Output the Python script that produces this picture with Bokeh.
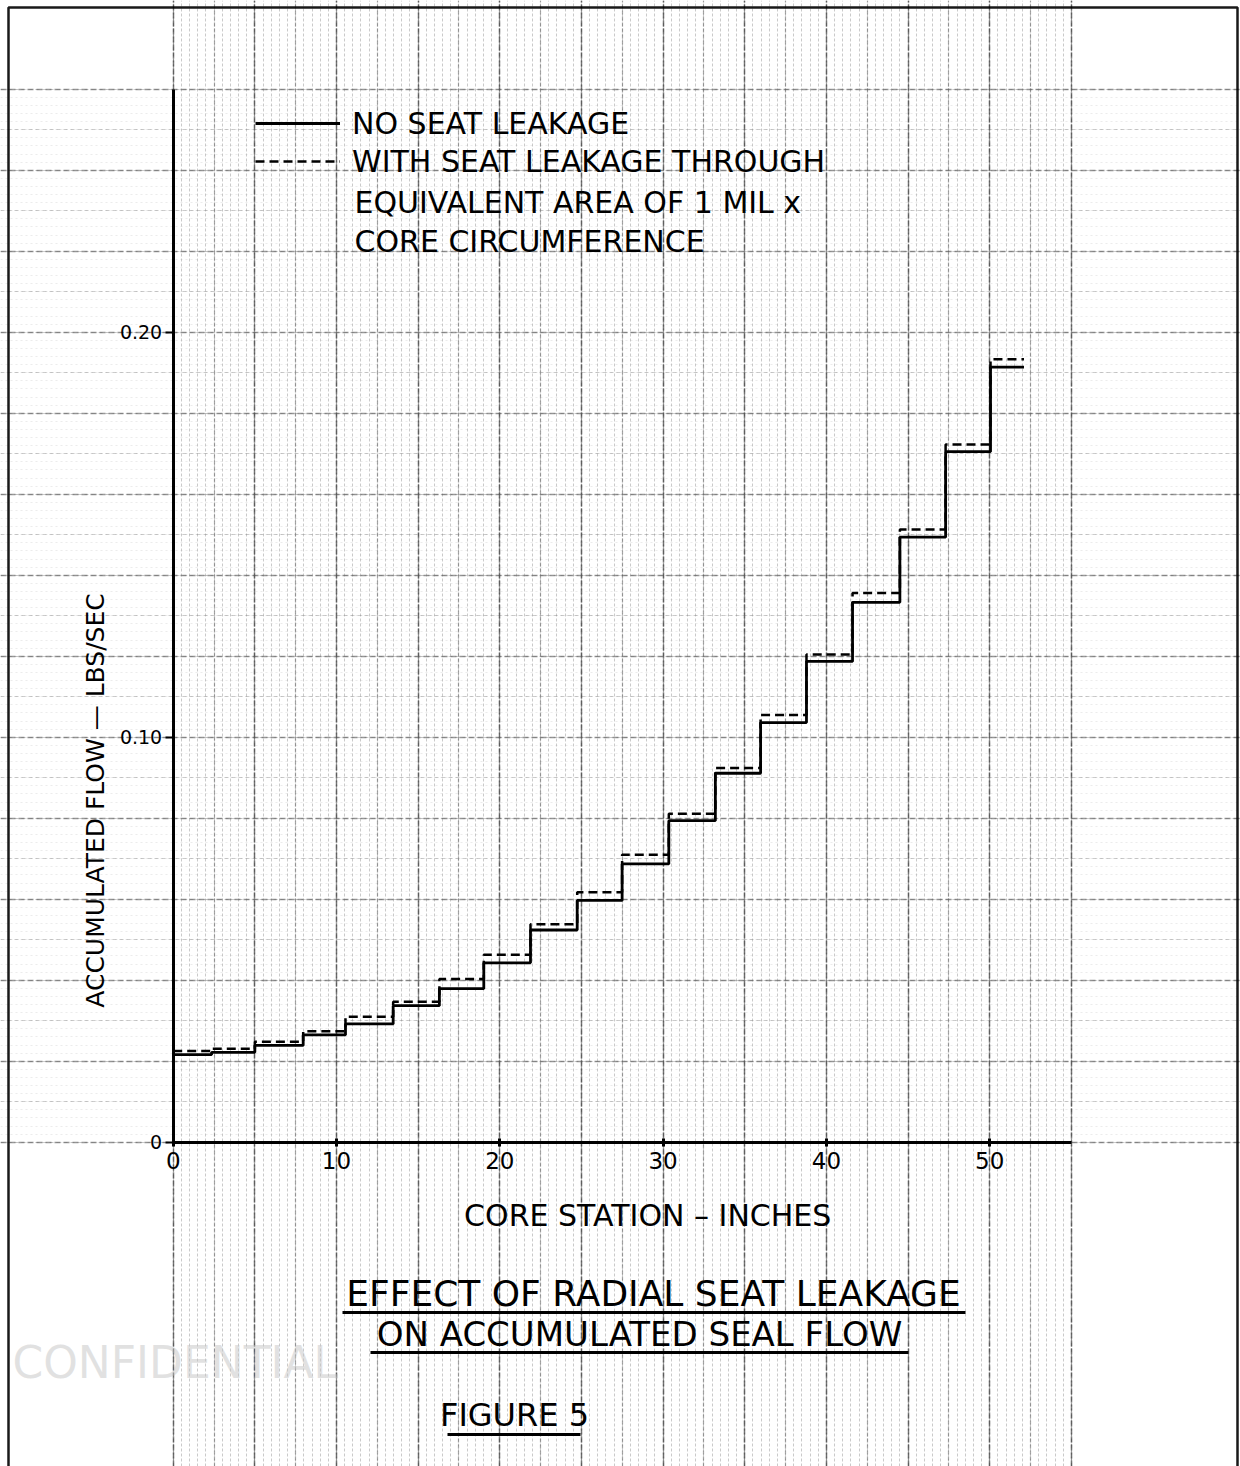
from bokeh.plotting import figure
from bokeh.models import (LinearAxis, FixedTicker, SingleIntervalTicker, Grid, Range1d,
                          Legend, LegendItem, Label, BoxAnnotation)
from bokeh.embed import file_html
from bokeh.resources import INLINE

# ---------------- data ----------------
station_edges = [0, 2.35, 5.0, 7.96, 10.55, 13.47, 16.3, 19.02, 21.88, 24.74, 27.49,
                 30.35, 33.2, 35.97, 38.78, 41.6, 44.5, 47.3, 50.05, 52.1]
flow_no_leak = [0.0216, 0.0222, 0.0239, 0.0265, 0.0292, 0.0337, 0.0379, 0.0443, 0.0524,
                0.0597, 0.0687, 0.0794, 0.0911, 0.1036, 0.1187, 0.1333, 0.1494, 0.1705, 0.1914]
flow_with_leak = [0.0225, 0.0231, 0.0248, 0.0274, 0.0310, 0.0347, 0.0403, 0.0463, 0.0538,
                  0.0617, 0.0710, 0.0811, 0.0924, 0.1055, 0.1204, 0.1356, 0.1513, 0.1723, 0.1933]
x_ticks = [0, 10, 20, 30, 40, 50]
y_ticks = [0, 0.10, 0.20]
y_tick_labels = ["0", "0.10", "0.20"]

series_names = ["NO SEAT LEAKAGE", "WITH SEAT LEAKAGE THROUGH"]
legend_extra = ["EQUIVALENT AREA OF 1 MIL x", "CORE CIRCUMFERENCE"]
x_label = "CORE  STATION – INCHES"
y_label = "ACCUMULATED FLOW — LBS/SEC"
title_lines = ["EFFECT OF RADIAL SEAT LEAKAGE", "ON ACCUMULATED SEAL FLOW"]
figure_label = "FIGURE 5"

# ---------------- page geometry ----------------
W, H = 1240, 1466
OFF = 0
X_PPU = 16.33          # px per inch of core station
Y_PPU = 4050.0         # px per lb/sec
X0_PX, Y0_PX = 172.7, 1141.7
XS = -(X0_PX - OFF) / X_PPU
XE = XS + W / X_PPU
YE = (Y0_PX - OFF) / Y_PPU
YS = YE - H / Y_PPU


def px2x(px):
    return XS + (px - OFF) / X_PPU


def px2y(py):
    return YE - (py - OFF) / Y_PPU


FONT = "DejaVu Sans"

p = figure(width=W, height=H, output_backend="svg", toolbar_location=None,
           x_range=Range1d(XS, XE), y_range=Range1d(YS, YE),
           x_axis_location=None, y_axis_location=None,
           min_border=0, background_fill_color="white", border_fill_color="white")
p.outline_line_color = None
p.xgrid.visible = False
p.ygrid.visible = False

# ---------------- graph paper ----------------
def add_grid(dim, interval, color, alpha, dash, width):
    g = Grid(dimension=dim, ticker=SingleIntervalTicker(interval=interval, num_minor_ticks=0),
             grid_line_color=color, grid_line_alpha=alpha, grid_line_dash=dash,
             grid_line_width=width)
    p.add_layout(g)

add_grid(0, 0.5, "#8a8a8a", 0.45, "3 2", 1)
add_grid(1, 0.002, "#a8a8a8", 0.22, "2 3", 1)
add_grid(0, 2.5, "#6a6a6a", 0.6, "4 2", 1.2)
add_grid(1, 0.01, "#808080", 0.4, "4 3", 1)
add_grid(0, 5, "#444444", 0.7, "6 2", 1.5)
add_grid(1, 0.02, "#555555", 0.6, "6 3", 1.3)

# paper border (edge of the sheet)
p.add_layout(BoxAnnotation(left=px2x(8), right=px2x(1237), top=px2y(7), bottom=px2y(1470),
                           fill_alpha=0, line_color="black", line_alpha=0.9, line_width=2.5))

# ---------------- axes at the origin ----------------
xaxis = LinearAxis(fixed_location=0, ticker=FixedTicker(ticks=x_ticks), bounds=(0, 55))
xaxis.axis_line_width = 3
xaxis.axis_line_color = "black"
xaxis.major_tick_in = 4
xaxis.major_tick_out = 4
xaxis.major_tick_line_width = 3
xaxis.minor_tick_line_color = None
xaxis.major_label_text_font = FONT
xaxis.major_label_text_font_size = "23px"
xaxis.major_label_text_color = "black"
xaxis.major_label_standoff = 6
p.add_layout(xaxis, "below")

yaxis = LinearAxis(fixed_location=0, ticker=FixedTicker(ticks=y_ticks), bounds=(0, 0.26))
yaxis.axis_line_width = 3
yaxis.axis_line_color = "black"
yaxis.major_tick_in = 0
yaxis.major_tick_out = 8
yaxis.major_tick_line_width = 2
yaxis.minor_tick_line_color = None
yaxis.major_label_text_font = FONT
yaxis.major_label_text_font_size = "19px"
yaxis.major_label_text_color = "black"
yaxis.major_label_standoff = 3
yaxis.major_label_overrides = {t: s for t, s in zip(y_ticks, y_tick_labels)}
p.add_layout(yaxis, "left")

# ---------------- step curves ----------------
xs = station_edges
y_solid = flow_no_leak + [flow_no_leak[-1]]
y_dash = flow_with_leak + [flow_with_leak[-1]]
r_dash = p.step(xs, y_dash, mode="after", line_color="black", line_width=2.5, line_dash="9 5")
r_solid = p.step(xs, y_solid, mode="after", line_color="black", line_width=2.8)

# ---------------- legend ----------------
legend = Legend(items=[LegendItem(label=series_names[0], renderers=[r_solid]),
                       LegendItem(label=series_names[1], renderers=[r_dash])],
                location=(255 - OFF, (OFF + H) - 180),
                orientation="vertical", glyph_width=85, glyph_height=30,
                label_height=38, spacing=0, padding=0, margin=0, label_standoff=12,
                label_text_font=FONT, label_text_font_size="30px",
                label_text_color="black",
                background_fill_alpha=0, border_line_alpha=0)
p.add_layout(legend, "center")

for txt, py in zip(legend_extra, [202, 241]):
    p.add_layout(Label(x=px2x(354), y=px2y(py), text=txt, text_font=FONT,
                       text_font_size="30px", text_color="black",
                       text_baseline="middle", text_align="left"))

# ---------------- axis titles ----------------
p.add_layout(Label(x=px2x(652), y=px2y(1215), text=x_label, text_font=FONT,
                   text_font_size="30px", text_color="black",
                   text_baseline="middle", text_align="center"))
p.add_layout(Label(x=px2x(95), y=px2y(800), text=y_label, text_font=FONT,
                   text_font_size="25px", text_color="black",
                   text_baseline="middle", text_align="center", angle=1.5707963))

# ---------------- titles with underlines ----------------
for txt, cx, py, size, l, r, uy in [(title_lines[0], 653, 1293, "36px", 342, 965, 1312),
                                    (title_lines[1], 639, 1333, "34px", 370, 908, 1352),
                                    (figure_label, 514, 1414, "32px", 447, 580, 1434)]:
    p.add_layout(Label(x=px2x(cx), y=px2y(py), text=txt, text_font=FONT,
                       text_font_size=size, text_color="black",
                       text_baseline="middle", text_align="center"))
    p.add_layout(BoxAnnotation(left=px2x(l), right=px2x(r), top=px2y(uy - 1.5),
                               bottom=px2y(uy + 1.5), fill_color="black", fill_alpha=1,
                               line_color=None))

# faint stamp in lower left
p.add_layout(Label(x=px2x(12), y=px2y(1362), text="CONFIDENTIAL", text_font=FONT,
                   text_font_size="44px", text_color="#c4c4c4", text_alpha=0.5,
                   text_baseline="middle", text_align="left"))

open("out.html", "w").write(file_html(p, INLINE))
